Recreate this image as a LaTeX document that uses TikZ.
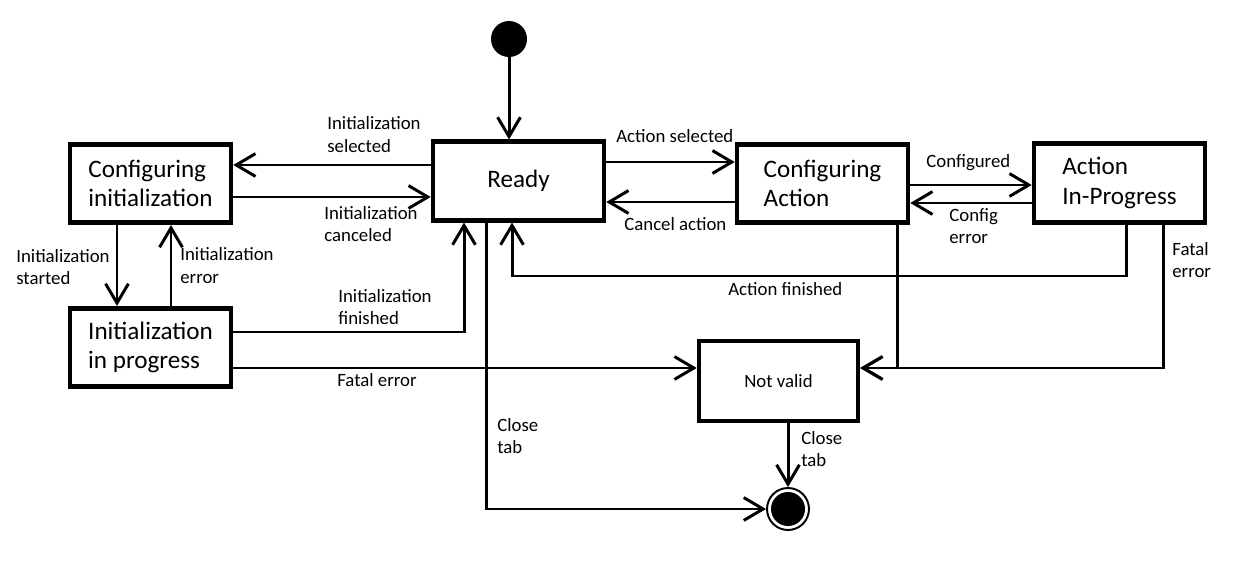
\documentclass[tikz,border=0pt]{standalone}
\usepackage{fontspec}
\setmainfont{Carlito}
\usetikzlibrary{arrows.meta}

\begin{document}
\begin{tikzpicture}
[x=0.02cm,y=-0.02cm,
state/.style={rectangle,draw,line width=2.6pt,minimum height=1.57cm,inner sep=0pt,align=left,font=\fontsize{14.3}{16.6}\selectfont},
lab/.style={anchor=west,align=left,inner sep=0pt,font=\fontsize{10.7}{13}\selectfont},
startdot/.style={circle,fill=black,minimum size=0.72cm,inner sep=0pt},
enddot/.style={circle,draw,line width=1.1pt,minimum size=0.84cm,inner sep=0pt,
  path picture={\fill (path picture bounding box.center) circle (0.34cm);}},
tr/.style={line width=1.7pt,-{Straight Barb[length=11pt,width=13pt]}}]
\useasboundingbox (0,0) rectangle (1240,564);
%states
\node[state,minimum width=3.22cm] (ci) at (150.5,183.5) {Configuring\\initialization};
\node[state,minimum width=3.22cm] (ip) at (150.5,347.5) {Initialization\\in progress};
\node[state,minimum width=3.42cm] (rd) at (518.5,181) {Ready};
\node[state,minimum width=3.42cm] (ca) at (822.5,183.5) {Configuring\\Action};
\node[state,minimum width=3.42cm] (ai) at (1119.5,183) {Action\\In-Progress};
\node[state,minimum width=3.18cm,minimum height=1.6cm,font=\fontsize{10.7}{13}\selectfont] (nv) at (778.5,381) {Not valid};
\node[startdot] (start) at (509,39) {};
\node[enddot] (fin) at (788,509) {};
%transitions
\draw[tr] (start) -- (start |- rd.north);
\draw[tr] (rd.west |- 0,165) -- (ci.east |- 0,165);
\draw[tr] (ci.east |- 0,197) -- (rd.west |- 0,197);
\draw[tr] (ci.south -| 117,0) -- (ip.north -| 117,0);
\draw[tr] (ip.north -| 171,0) -- (ci.south -| 171,0);
\draw[tr] (ip.east |- 0,332) -| (rd.south -| 464,0);
\draw[tr] (ip.east |- 0,368) -- (nv.west |- 0,368);
\draw[tr] (rd.south -| 486,0) |- (fin.west);
\draw[tr] (rd.east |- 0,162) -- (ca.west |- 0,162);
\draw[tr] (ca.west |- 0,202) -- (rd.east |- 0,202);
\draw[tr] (ai.south -| 1126,0) -- (1126,276) -| (rd.south -| 512,0);
\draw[tr] (ca.east |- 0,185) -- (ai.west |- 0,185);
\draw[tr] (ai.west |- 0,203) -- (ca.east |- 0,203);
\draw[tr] (ca.south -| 897,0) |- (nv.east |- 0,368);
\draw[tr] (ai.south -| 1163,0) |- (nv.east |- 0,368);
\draw[tr] (fin |- nv.south) -- (fin.north);
%labels
\node[lab] (l-isel) at (327,134.5) {Initialization\\selected};
\node[lab] (l-ican) at (324,224) {Initialization\\canceled};
\node[lab] (l-ista) at (16,267) {Initialization\\started};
\node[lab] (l-ierr) at (180,265.5) {Initialization\\error};
\node[lab] (l-ifin) at (338,307) {Initialization\\finished};
\node[lab] (l-fat1) at (337,380) {Fatal error};
\node[lab] (l-asel) at (616,136) {Action selected};
\node[lab] (l-canc) at (624,224) {Cancel action};
\node[lab] (l-afin) at (728,289) {Action finished};
\node[lab] (l-conf) at (926,163) {Configured};
\node[lab] (l-cerr) at (949,226) {Config\\error};
\node[lab] (l-fat2) at (1172,260) {Fatal\\error};
\node[lab] (l-clo1) at (497,436) {Close\\tab};
\node[lab] (l-clo2) at (801,449) {Close\\tab};
\end{tikzpicture}
\end{document}
